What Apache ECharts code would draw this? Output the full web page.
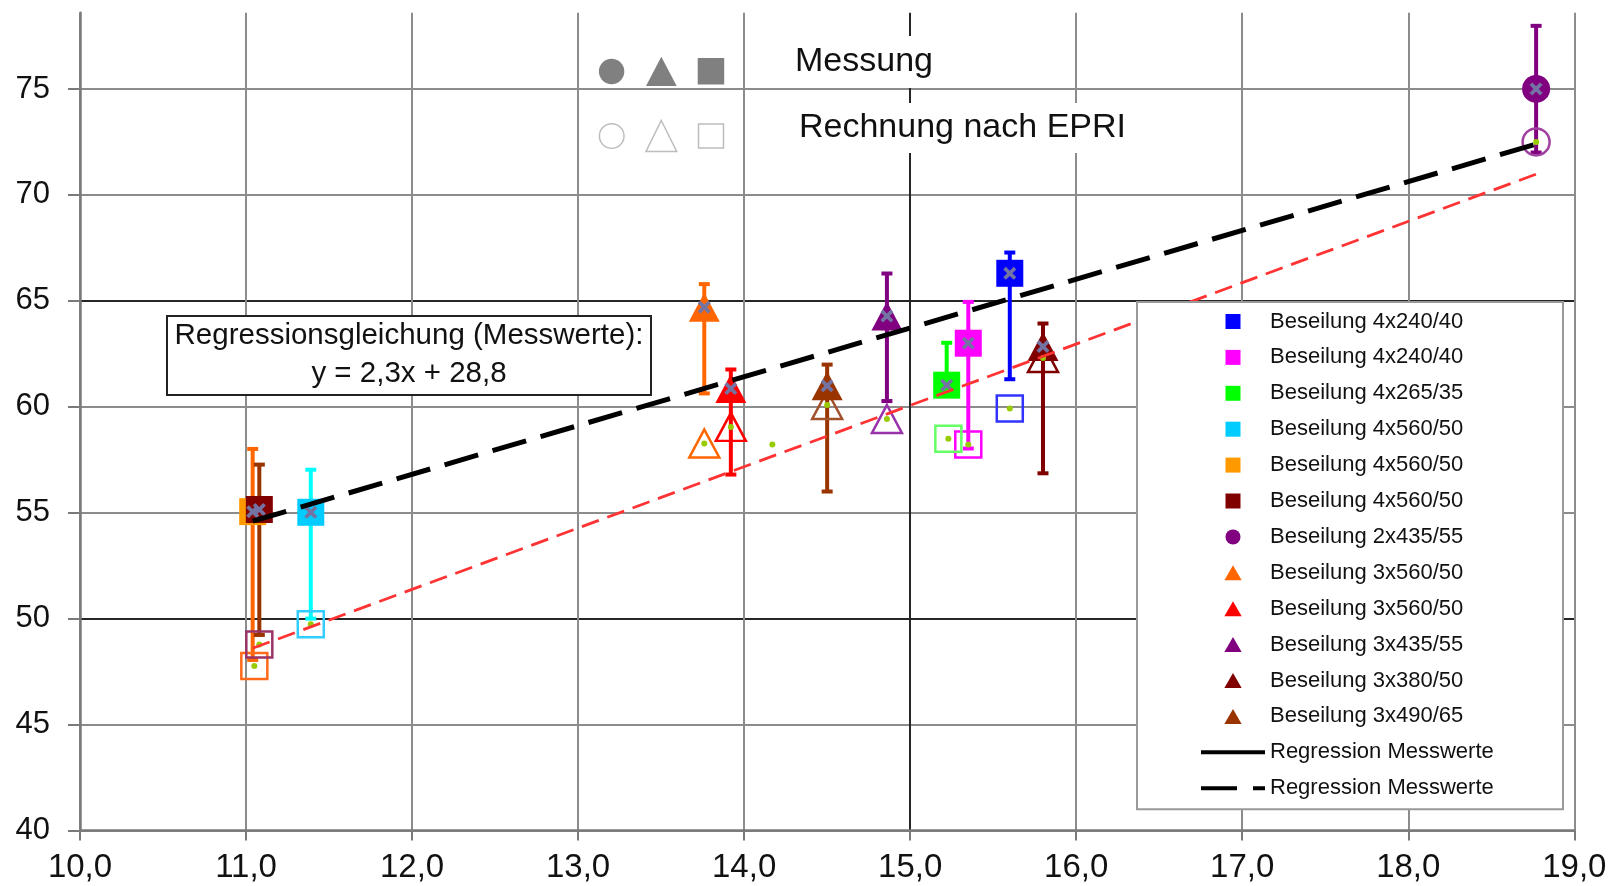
<!DOCTYPE html>
<html>
<head>
<meta charset="utf-8">
<title>Beseilung - Messung und Rechnung nach EPRI</title>
<script src="https://cdn.jsdelivr.net/npm/echarts@6/dist/echarts.min.js"></script>
<style>
html, body { margin: 0; padding: 0; background: #fff; }
#main { width: 1613px; height: 886px; }
</style>
</head>
<body>
<div id="main"></div>
<script>
// legend labels, in legend order
const labels = [
	'Beseilung 4x240/40', 'Beseilung 4x240/40', 'Beseilung 4x265/35',
	'Beseilung 4x560/50', 'Beseilung 4x560/50', 'Beseilung 4x560/50',
	'Beseilung 2x435/55', 'Beseilung 3x560/50', 'Beseilung 3x560/50',
	'Beseilung 3x435/55', 'Beseilung 3x380/50', 'Beseilung 3x490/65'
];
// Messung (filled markers) + error bar limits
const measX   = [15.60, 15.35, 15.22, 11.39, 11.04, 11.08, 18.77, 13.76, 13.92, 14.86, 15.80, 14.50];
const measY   = [66.30, 63.00, 61.02, 55.02, 55.05, 55.15, 75.00, 64.70, 60.86, 64.28, 62.84, 60.99];
const errLow  = [61.30, 58.03, 61.02, 50.00, 48.05, 49.23, 72.00, 60.63, 56.80, 60.27, 56.86, 56.00];
const errHigh = [67.28, 64.95, 63.02, 57.03, 58.01, 57.27, 77.98, 65.79, 61.76, 66.29, 63.93, 61.99];
// Rechnung nach EPRI (hollow markers)
const calcX = [15.60, 15.35, 15.23, 11.39, 11.05, 11.08, 18.77, 13.76, 13.92, 14.86, 15.80, 14.50];
const calcY = [59.92, 58.22, 58.49, 49.73, 47.76, 48.78, 72.50, 58.27, 59.05, 59.42, 62.30, 60.08];
// calculated point without own marker
const looseX = [14.17];
const looseY = [58.22];
// regression lines
const regX = [11.04, 18.77];
const regMessY = [54.6, 72.4];
const regCalcY = [48.6, 70.98];
const regLabel = 'Regression Messwerte';

// styles
const FONT = '"Liberation Sans", Arial, sans-serif';
const shapes = ['rect', 'rect', 'rect', 'rect', 'rect', 'rect', 'circle', 'triangle', 'triangle', 'triangle', 'triangle', 'triangle'];
const fillColors = ['#0000ff', '#ff00ff', '#00ff00', '#00ccff', '#ff9900', '#800000', '#800080', '#ff6600', '#ff0000', '#800080', '#800000', '#993300'];
const barColors  = ['#0000ff', '#ff00ff', '#00ff00', '#00ffff', '#ff6600', '#993300', '#800080', '#ff6600', '#ff0000', '#800080', '#800000', '#993300'];
const calcColors = ['#3333ff', '#ff00ff', '#66ff66', '#33ccff', '#ff6a1a', '#993366', '#a040a0', '#ff6600', '#ff0000', '#9933aa', '#800000', '#a0522d'];
const legendIcons = {
	rect: 'path://M0,0H15V15H0Z',
	circle: 'circle',
	triangle: 'path://M7.5,0L15,13H0Z'
};
const GRID = '#8c8c8c', GRID_DARK = '#262626';

// same label may occur several times -> make names unique with trailing blanks
var seen = {};
const names = labels.map(function (l) {
	var n = seen[l] || 0;
	seen[l] = n + 1;
	return l + ' '.repeat(n);
});

function filledSize(s) {
	if (s === 'triangle') return [31, 29];
	return s === 'circle' ? 28 : 27;
}
function hollowSize(s) {
	if (s === 'triangle') return [30, 28];
	return s === 'circle' ? 27 : 26;
}

function renderErrorBar(params, api) {
	var x = api.value(0);
	var lo = api.coord([x, api.value(1)]);
	var hi = api.coord([x, api.value(2)]);
	var c = barColors[api.value(3)];
	var cap = 5.5;
	return {
		type: 'group',
		children: [
			{ type: 'line', shape: { x1: hi[0], y1: hi[1], x2: lo[0], y2: lo[1] }, style: { stroke: c, lineWidth: 4 } },
			{ type: 'line', shape: { x1: hi[0] - cap, y1: hi[1], x2: hi[0] + cap, y2: hi[1] }, style: { stroke: c, lineWidth: 4 } },
			{ type: 'line', shape: { x1: lo[0] - cap, y1: lo[1], x2: lo[0] + cap, y2: lo[1] }, style: { stroke: c, lineWidth: 4 } }
		]
	};
}

var series = [];
series.push({
	type: 'custom',
	name: 'Fehlerbalken',
	z: 2,
	silent: true,
	renderItem: renderErrorBar,
	encode: { x: 0, y: [1, 2] },
	data: measX.map(function (x, i) { return [x, errLow[i], errHigh[i], i]; })
});
series.push({
	type: 'scatter',
	name: 'Rechnung nach EPRI',
	z: 3,
	data: calcX.map(function (x, i) {
		return {
			value: [x, calcY[i]],
			symbol: shapes[i],
			symbolSize: hollowSize(shapes[i]),
			itemStyle: { color: 'rgba(0,0,0,0)', borderColor: calcColors[i], borderWidth: 2.5, opacity: 1 }
		};
	})
});
names.forEach(function (n, i) {
	series.push({
		type: 'scatter',
		name: n,
		z: 4,
		symbol: shapes[i],
		symbolSize: filledSize(shapes[i]),
		itemStyle: { color: fillColors[i], opacity: 1 },
		data: [[measX[i], measY[i]]]
	});
});
series.push({
	type: 'scatter',
	name: 'Mittelwert',
	z: 5,
	symbol: 'path://M0,2L2,0L5,3L8,0L10,2L7,5L10,8L8,10L5,7L2,10L0,8L3,5Z',
	symbolSize: 13,
	itemStyle: { color: '#7474a4', opacity: 1 },
	data: measX.map(function (x, i) { return [x, measY[i]]; })
});
series.push({
	type: 'scatter',
	name: 'EPRI Punkte',
	z: 5,
	symbolSize: 6,
	itemStyle: { color: '#99cc00', opacity: 1 },
	data: calcX.map(function (x, i) { return [x, calcY[i]]; })
		.concat(looseX.map(function (x, i) { return [x, looseY[i]]; }))
});
series.push({
	type: 'line',
	name: regLabel,
	z: 6,
	symbol: 'none',
	itemStyle: { color: '#000' },
	lineStyle: { color: '#000', width: 5, type: [35, 15] },
	data: regX.map(function (x, i) { return [x, regMessY[i]]; })
});
series.push({
	type: 'line',
	name: regLabel + ' ',
	z: 6,
	symbol: 'none',
	itemStyle: { color: '#ff3333' },
	lineStyle: { color: '#ff3333', width: 2.8, type: [18, 9] },
	data: regX.map(function (x, i) { return [x, regCalcY[i]]; })
});

var legendData = names.map(function (n, i) {
	return { name: n, icon: legendIcons[shapes[i]], itemStyle: { opacity: 1 } };
});
legendData.push({ name: regLabel, icon: 'path://M0,0H64V4H0Z', itemStyle: { color: '#000', borderWidth: 0 } });
legendData.push({ name: regLabel + ' ', icon: 'path://M0,0H36V4H0ZM52,0H64V4H52Z', itemStyle: { color: '#000', borderWidth: 0 } });

var xGridColors = [GRID, GRID, GRID, GRID, GRID, GRID_DARK, GRID, GRID, GRID, GRID];
// last entry: top edge of the plot has no line
var yGridColors = [GRID, GRID, GRID_DARK, GRID, GRID, GRID_DARK, GRID, GRID, 'rgba(0,0,0,0)'];

var option = {
	animation: false,
	backgroundColor: '#fff',
	grid: { left: 80, right: 38.7, top: 12.7, bottom: 55.5 },
	xAxis: {
		type: 'value',
		min: 10,
		max: 19,
		interval: 1,
		axisLine: { show: true, onZero: false, lineStyle: { color: '#7a7a7a', width: 2.5 } },
		axisTick: { show: true, length: 10, lineStyle: { color: '#7a7a7a', width: 2 } },
		axisLabel: {
			fontFamily: FONT, fontSize: 33, color: '#111', margin: 21,
			formatter: function (v) { return v.toFixed(1).replace('.', ','); }
		},
		splitLine: { show: true, lineStyle: { color: xGridColors, width: 2 } }
	},
	yAxis: {
		type: 'value',
		min: 40,
		max: 78.6,
		interval: 5,
		axisLine: { show: true, onZero: false, lineStyle: { color: '#7a7a7a', width: 2.5 } },
		axisTick: { show: true, length: 12, lineStyle: { color: '#7a7a7a', width: 2 } },
		axisLabel: { fontFamily: FONT, fontSize: 31, color: '#111', margin: 30, showMaxLabel: false },
		splitLine: { show: true, lineStyle: { color: yGridColors, width: 2 } }
	},
	legend: {
		orient: 'vertical',
		left: 1137,
		top: 302,
		z: 100,
		selectedMode: false,
		itemWidth: 64,
		itemHeight: 15,
		itemGap: 13.9,
		padding: [8.5, 63, 10, 64],
		backgroundColor: '#fff',
		borderColor: '#999',
		borderWidth: 2,
		textStyle: { fontFamily: FONT, fontSize: 22, color: '#111', lineHeight: 22, width: 230 },
		data: legendData
	},
	graphic: [
		// symbol key
		{ type: 'circle', z: 100, shape: { cx: 611.6, cy: 71.5, r: 12.7 }, style: { fill: '#808080' } },
		{ type: 'polygon', z: 100, shape: { points: [[661.3, 56.8], [676.7, 86], [646, 86]] }, style: { fill: '#808080' } },
		{ type: 'rect', z: 100, shape: { x: 697.7, y: 58, width: 26.5, height: 26.5 }, style: { fill: '#808080' } },
		{ type: 'circle', z: 100, shape: { cx: 611.7, cy: 136, r: 12.3 }, style: { fill: 'none', stroke: '#bdbdbd', lineWidth: 1.5 } },
		{ type: 'polygon', z: 100, shape: { points: [[661.3, 120.5], [676.7, 151.5], [646, 151.5]] }, style: { fill: 'none', stroke: '#bdbdbd', lineWidth: 1.5 } },
		{ type: 'rect', z: 100, shape: { x: 698.5, y: 124, width: 25, height: 24 }, style: { fill: 'none', stroke: '#bdbdbd', lineWidth: 1.5 } },
		{
			type: 'text', z: 100,
			style: {
				text: 'Messung', x: 785, y: 62, font: '34px ' + FONT, fill: '#111',
				textAlign: 'left', textVerticalAlign: 'middle', align: 'left', verticalAlign: 'middle',
				backgroundColor: '#fff', padding: [9, 10]
			}
		},
		{
			type: 'text', z: 100,
			style: {
				text: 'Rechnung nach EPRI', x: 789, y: 128, font: '34px ' + FONT, fill: '#111',
				textAlign: 'left', textVerticalAlign: 'middle', align: 'left', verticalAlign: 'middle',
				backgroundColor: '#fff', padding: [8, 10]
			}
		},
		// regression equation box
		{ type: 'rect', z: 100, shape: { x: 167, y: 316, width: 484, height: 79 }, style: { fill: '#fff', stroke: '#222', lineWidth: 2 } },
		{
			type: 'text', z: 101,
			style: {
				text: 'Regressionsgleichung (Messwerte):', x: 409, y: 336, font: '29.5px ' + FONT, fill: '#111',
				textAlign: 'center', textVerticalAlign: 'middle', align: 'center', verticalAlign: 'middle'
			}
		},
		{
			type: 'text', z: 101,
			style: {
				text: 'y = 2,3x + 28,8', x: 409, y: 374, font: '29.5px ' + FONT, fill: '#111',
				textAlign: 'center', textVerticalAlign: 'middle', align: 'center', verticalAlign: 'middle'
			}
		}
	],
	series: series
};

var chart = echarts.init(document.getElementById('main'));
chart.setOption(option);
</script>
</body>
</html>
